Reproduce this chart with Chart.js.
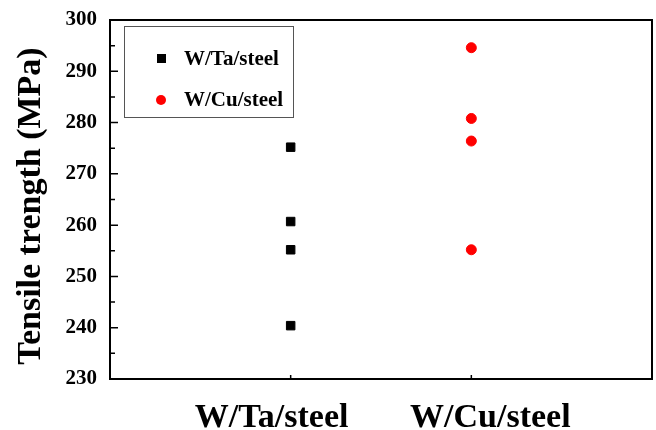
<!DOCTYPE html>
<html>
<head>
<meta charset="utf-8">
<script src="https://cdn.jsdelivr.net/npm/chart.js@4/dist/chart.umd.min.js"></script>
<style>
html,body{margin:0;padding:0;background:#fff;}
#wrap{width:656px;height:430px;}
</style>
</head>
<body>
<div id="wrap"><canvas id="c" width="656" height="430"></canvas></div>
<script>
// ---- data ----
const categories = ["W/Ta/steel", "W/Cu/steel"];
const seriesNames = ["W/Ta/steel", "W/Cu/steel"];
const wTaValues = [275.2, 260.7, 255.2, 240.4];
const wCuValues = [294.6, 280.8, 276.4, 255.2];
const yTicks = [230, 240, 250, 260, 270, 280, 290, 300];
const yTitle = "Tensile trength (MPa)";

// ---- style ----
const FONT = "'Liberation Serif', 'Times New Roman', serif";
const catLabelOffsets = [-19, 19];

const seriesData = [wTaValues, wCuValues];

const decor = {
  id: 'decor',
  afterDraw(chart) {
    const ctx = chart.ctx;
    const a = chart.chartArea;
    const xs = chart.scales.x, ys = chart.scales.y;
    ctx.save();
    // frame
    ctx.strokeStyle = '#000';
    ctx.lineWidth = 2;
    ctx.strokeRect(a.left, a.top, a.right - a.left, a.bottom - a.top);
    // y inward ticks (major + minor)
    ctx.lineWidth = 1.5;
    ctx.beginPath();
    for (let i = 0; i < yTicks.length; i++) {
      const y = ys.getPixelForValue(yTicks[i]);
      ctx.moveTo(a.left, y); ctx.lineTo(a.left + 8, y);
      if (i < yTicks.length - 1) {
        const ym = ys.getPixelForValue((yTicks[i] + yTicks[i + 1]) / 2);
        ctx.moveTo(a.left, ym); ctx.lineTo(a.left + 5, ym);
      }
    }
    // x inward ticks
    categories.forEach((c, i) => {
      const x = xs.getPixelForValue(i + 1);
      ctx.moveTo(x, a.bottom); ctx.lineTo(x, a.bottom - 4);
    });
    ctx.stroke();
    // x category labels
    ctx.fillStyle = '#000';
    ctx.font = 'bold 34px ' + FONT;
    ctx.textAlign = 'center';
    ctx.textBaseline = 'alphabetic';
    categories.forEach((c, i) => {
      const x = xs.getPixelForValue(i + 1) + catLabelOffsets[i];
      ctx.fillText(c, x, 427);
    });
    // y title
    ctx.save();
    ctx.translate(31, 206);
    ctx.rotate(-Math.PI / 2);
    ctx.font = 'bold 34px ' + FONT;
    ctx.textAlign = 'center';
    ctx.textBaseline = 'middle';
    ctx.fillText(yTitle, 0, 0);
    ctx.restore();
    // legend
    ctx.strokeStyle = '#555';
    ctx.lineWidth = 1;
    ctx.strokeRect(124.5, 26.5, 169, 91);
    ctx.font = 'bold 21px ' + FONT;
    ctx.textAlign = 'left';
    ctx.textBaseline = 'alphabetic';
    const ds = chart.data.datasets;
    ctx.fillStyle = ds[0].backgroundColor;
    ctx.fillRect(157, 54, 9, 9);
    ctx.fillStyle = '#000';
    ctx.fillText(ds[0].label, 184, 65);
    ctx.fillStyle = ds[1].backgroundColor;
    ctx.beginPath();
    ctx.arc(161, 100, 5, 0, Math.PI * 2);
    ctx.fill();
    ctx.fillStyle = '#000';
    ctx.fillText(ds[1].label, 184, 106);
    ctx.restore();
  }
};

new Chart(document.getElementById('c'), {
  type: 'scatter',
  data: {
    datasets: [
      {
        label: seriesNames[0],
        data: seriesData[0].map(v => ({x: 1, y: v})),
        pointStyle: 'rect',
        pointRadius: 6,
        borderWidth: 1,
        backgroundColor: '#000000',
        borderColor: '#000000'
      },
      {
        label: seriesNames[1],
        data: seriesData[1].map(v => ({x: 2, y: v})),
        pointStyle: 'circle',
        pointRadius: 5,
        borderWidth: 1,
        backgroundColor: '#ff0000',
        borderColor: '#ff0000'
      }
    ]
  },
  options: {
    responsive: false,
    animation: false,
    devicePixelRatio: 1,
    layout: { autoPadding: false, padding: { top: 20, right: 4, left: 0, bottom: 0 } },
    plugins: { legend: { display: false }, tooltip: { enabled: false } },
    scales: {
      x: {
        type: 'linear',
        min: 0, max: 3,
        grid: { display: false, drawTicks: false },
        border: { display: false },
        ticks: { display: false },
        afterFit(s) { s.height = 51; s.paddingLeft = 0; s.paddingRight = 0; }
      },
      y: {
        type: 'linear',
        min: yTicks[0], max: yTicks[yTicks.length - 1],
        afterBuildTicks(s) { s.ticks = yTicks.map(v => ({value: v})); },
        grid: { display: false, drawTicks: false },
        border: { display: false },
        ticks: {
          color: '#000',
          padding: 13,
          font: { family: FONT, size: 21, weight: 'bold' }
        },
        afterFit(s) { s.width = 110; s.paddingTop = 0; s.paddingBottom = 0; }
      }
    }
  },
  plugins: [decor]
});
</script>
</body>
</html>
